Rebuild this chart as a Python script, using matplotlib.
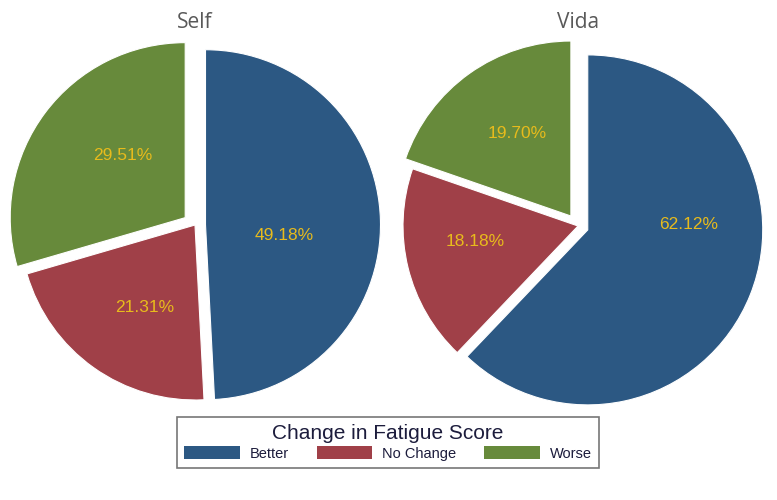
import matplotlib.pyplot as plt
from matplotlib.patches import Patch

categories = ["Better", "No Change", "Worse"]
self_pct = [49.18, 21.31, 29.51]
vida_pct = [62.12, 18.18, 19.70]
titles = ["Self", "Vida"]

colors = ["#2c5883", "#a04048", "#678a3b"]
label_color = "#e8bb1c"

W, H = 777, 500
R = 175  # pie radius in pixels
lim = 1.1

# where the percentage labels sit (pie radius units, from pie centre)
label_pos = [
    [(0.51, -0.06), (-0.29, -0.47), (-0.41, 0.40)],
    [(0.63, 0.01), (-0.59, -0.09), (-0.35, 0.53)],
]

fig = plt.figure(figsize=(W / 100, H / 100), dpi=100)

# pie centres in pixel coords (from the top-left)
centres = [(195, 225), (578, 226)]

for (cx, cy), vals, title, lpos in zip(centres, [self_pct, vida_pct], titles, label_pos):
    size = 2 * lim * R
    ax = fig.add_axes([(cx - size / 2) / W, (H - cy - size / 2) / H, size / W, size / H])
    wedges, _, autotexts = ax.pie(
        vals, colors=colors, startangle=90, counterclock=False,
        explode=[0.06, 0, 0.07], autopct="%.2f%%",
        wedgeprops=dict(edgecolor="white", linewidth=0.8),
        textprops=dict(color=label_color, fontsize=12.5, family="Liberation Sans"),
    )
    for t, p in zip(autotexts, lpos):
        t.set_position(p)
    ax.set_xlim(-lim, lim)
    ax.set_ylim(-lim, lim)
    ax.set_aspect("equal")
    ax.axis("off")
    fig.text(cx / W, 1 - 22 / H, title, ha="center", va="center",
             fontsize=15, color="#595959", family="Open Sans")

handles = [Patch(facecolor=c, edgecolor="none") for c in colors]
leg = fig.legend(handles, categories, loc="center", bbox_to_anchor=(388 / W, 1 - 442.5 / H),
                 ncol=3, frameon=True, fancybox=False, edgecolor="#555555",
                 title="Change in Fatigue Score", title_fontsize=15,
                 prop=dict(family="Liberation Sans", size=10.5),
                 handlelength=3.8, handleheight=1.0, columnspacing=1.9,
                 handletextpad=0.7, borderpad=0.5, labelspacing=0.2)
leg.get_title().set_color("#1c1c3c")
leg.get_title().set_family("Liberation Sans")
leg.get_frame().set_linewidth(1.2)
for t in leg.get_texts():
    t.set_color("#1c1c3c")

fig.savefig("out.png", dpi=100)
